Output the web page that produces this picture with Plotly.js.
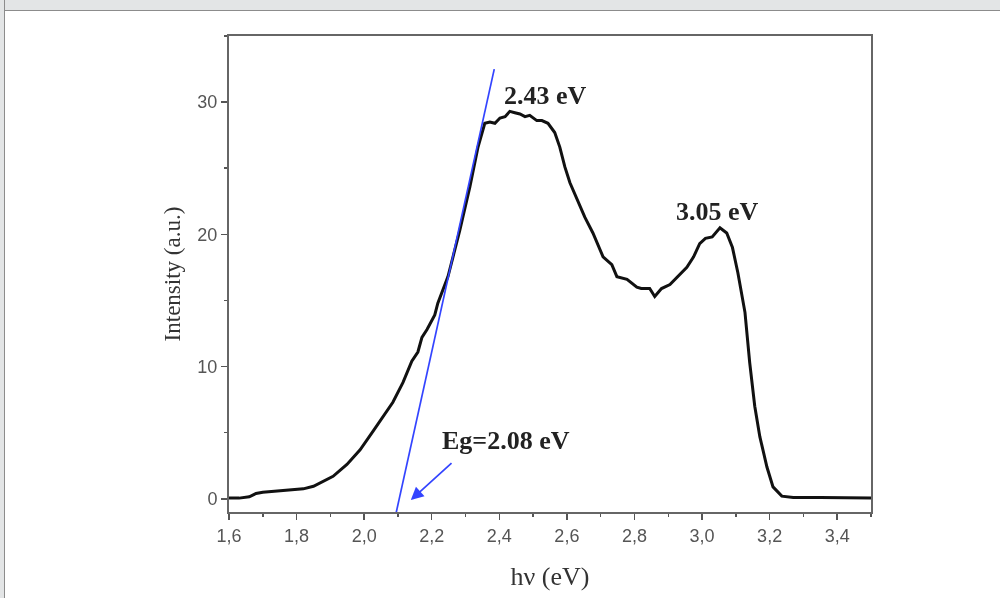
<!DOCTYPE html>
<html>
<head>
<meta charset="utf-8">
<script src="https://cdn.plot.ly/plotly-3.0.1.min.js"></script>
<style>
  html, body { margin: 0; padding: 0; background: #fff; overflow: hidden; }
  #band { position: fixed; left: 0; top: 0; width: 1200px; height: 10px; background: #e3e5e6; border-bottom: 1px solid #8c8c8c; }
  #lside { position: fixed; left: 0; top: 0; width: 4px; height: 700px; background: #e3e5e6; border-right: 1px solid #8c8c8c; }
  #plot { position: fixed; left: 0; top: 0; width: 1000px; height: 598px; }
</style>
</head>
<body>
<div id="band"></div>
<div id="lside"></div>
<div id="plot"></div>
<script>
// Spectrum
const energy = [1.600,1.630,1.660,1.680,1.700,1.740,1.780,1.820,1.850,1.869,1.908,1.949,1.988,2.026,2.056,2.085,2.115,2.141,2.159,2.171,2.186,2.209,2.218,2.233,2.248,2.263,2.283,2.313,2.337,2.357,2.372,2.387,2.402,2.417,2.431,2.446,2.461,2.476,2.490,2.511,2.526,2.544,2.564,2.579,2.594,2.609,2.630,2.653,2.677,2.707,2.733,2.748,2.778,2.807,2.820,2.845,2.860,2.880,2.905,2.928,2.955,2.975,2.993,3.010,3.030,3.053,3.073,3.090,3.106,3.127,3.141,3.156,3.171,3.192,3.210,3.236,3.270,3.350,3.420,3.500];
const intensity = [0.05,0.05,0.15,0.40,0.50,0.60,0.70,0.75,0.95,1.2,1.7,2.6,3.7,5.1,6.2,7.3,8.8,10.4,11.1,12.2,12.8,13.9,14.8,15.8,16.8,18.3,20.3,23.6,26.6,28.4,28.5,28.4,28.8,28.9,29.3,29.2,29.1,28.9,29.0,28.6,28.6,28.4,27.7,26.6,25.1,23.9,22.6,21.3,20.1,18.3,17.7,16.8,16.6,16.0,15.9,15.9,15.3,15.9,16.2,16.8,17.5,18.3,19.3,19.7,19.8,20.5,20.1,19.0,17.1,14.1,10.3,7.0,4.7,2.4,0.9,0.2,0.1,0.1,0.08,0.05];

// Tangent line (band-gap extrapolation)
const tangentX = [2.09, 2.385];
const tangentY = [-1.6, 32.5];

// Labels
const peakLabels = ["2.43 eV", "3.05 eV"];
const peakLabelX = [2.538, 3.046];
const peakLabelY = [30.5, 21.7];
const egLabel = "Eg=2.08 eV";
const egLabelX = 2.42, egLabelY = 4.4;
const egArrowHead = [2.138, -0.1];
const egArrowTail = [2.263, 2.8];

const xTicks = [1.6,1.8,2.0,2.2,2.4,2.6,2.8,3.0,3.2,3.4];
const yTicks = [0,10,20,30];

const traces = [
  { x: energy, y: intensity, mode: 'lines', line: { color: '#111', width: 3 }, hoverinfo: 'skip' },
  { x: tangentX, y: tangentY, mode: 'lines', line: { color: '#3344ff', width: 1.7 }, hoverinfo: 'skip' }
];

const serif = '"Liberation Serif", "Times New Roman", serif';
const annFont = { family: serif, size: 26, color: '#222' };
const annotations = peakLabels.map((t, i) => ({
  x: peakLabelX[i], y: peakLabelY[i], xref: 'x', yref: 'y', text: '<b>' + t + '</b>', showarrow: false, font: annFont
}));
annotations.push({ x: egLabelX, y: egLabelY, xref: 'x', yref: 'y', text: '<b>' + egLabel + '</b>', showarrow: false, font: annFont });
annotations.push({
  x: egArrowHead[0], y: egArrowHead[1], ax: egArrowTail[0], ay: egArrowTail[1],
  xref: 'x', yref: 'y', axref: 'x', ayref: 'y', text: '', showarrow: true,
  arrowhead: 2, arrowsize: 1.5, arrowwidth: 1.7, arrowcolor: '#3344ff'
});

const tickFont = { family: '"Liberation Sans", Arial, sans-serif', size: 18, color: '#555' };
const layout = {
  width: 1000, height: 598,
  margin: { l: 229, r: 129, t: 36, b: 86 },
  paper_bgcolor: 'rgba(0,0,0,0)',
  plot_bgcolor: '#fff',
  showlegend: false,
  separators: ',.',
  xaxis: {
    range: [1.6, 3.5], tickvals: xTicks, tickformat: '.1f',
    ticks: 'outside', ticklen: 6, tickwidth: 1.5, tickcolor: '#555',
    minor: { dtick: 0.1, tick0: 1.6, ticks: 'outside', ticklen: 3, tickwidth: 1.5, tickcolor: '#555' },
    showline: true, linecolor: '#666', linewidth: 2, mirror: true,
    showgrid: false, zeroline: false, tickfont: tickFont,
    title: { text: 'hν (eV)', standoff: 22, font: { family: serif, size: 26, color: '#333' } }
  },
  yaxis: {
    range: [-1, 35], tickvals: yTicks,
    ticks: 'outside', ticklen: 6, tickwidth: 1.5, tickcolor: '#555',
    minor: { dtick: 5, tick0: 0, ticks: 'outside', ticklen: 3, tickwidth: 1.5, tickcolor: '#555' },
    showline: true, linecolor: '#666', linewidth: 2, mirror: true,
    showgrid: false, zeroline: false, tickfont: tickFont,
    title: { text: 'Intensity (a.u.)', standoff: 10, font: { family: serif, size: 23, color: '#333' } }
  },
  annotations: annotations
};

Plotly.newPlot('plot', traces, layout, { staticPlot: true, displayModeBar: false });
</script>
</body>
</html>
